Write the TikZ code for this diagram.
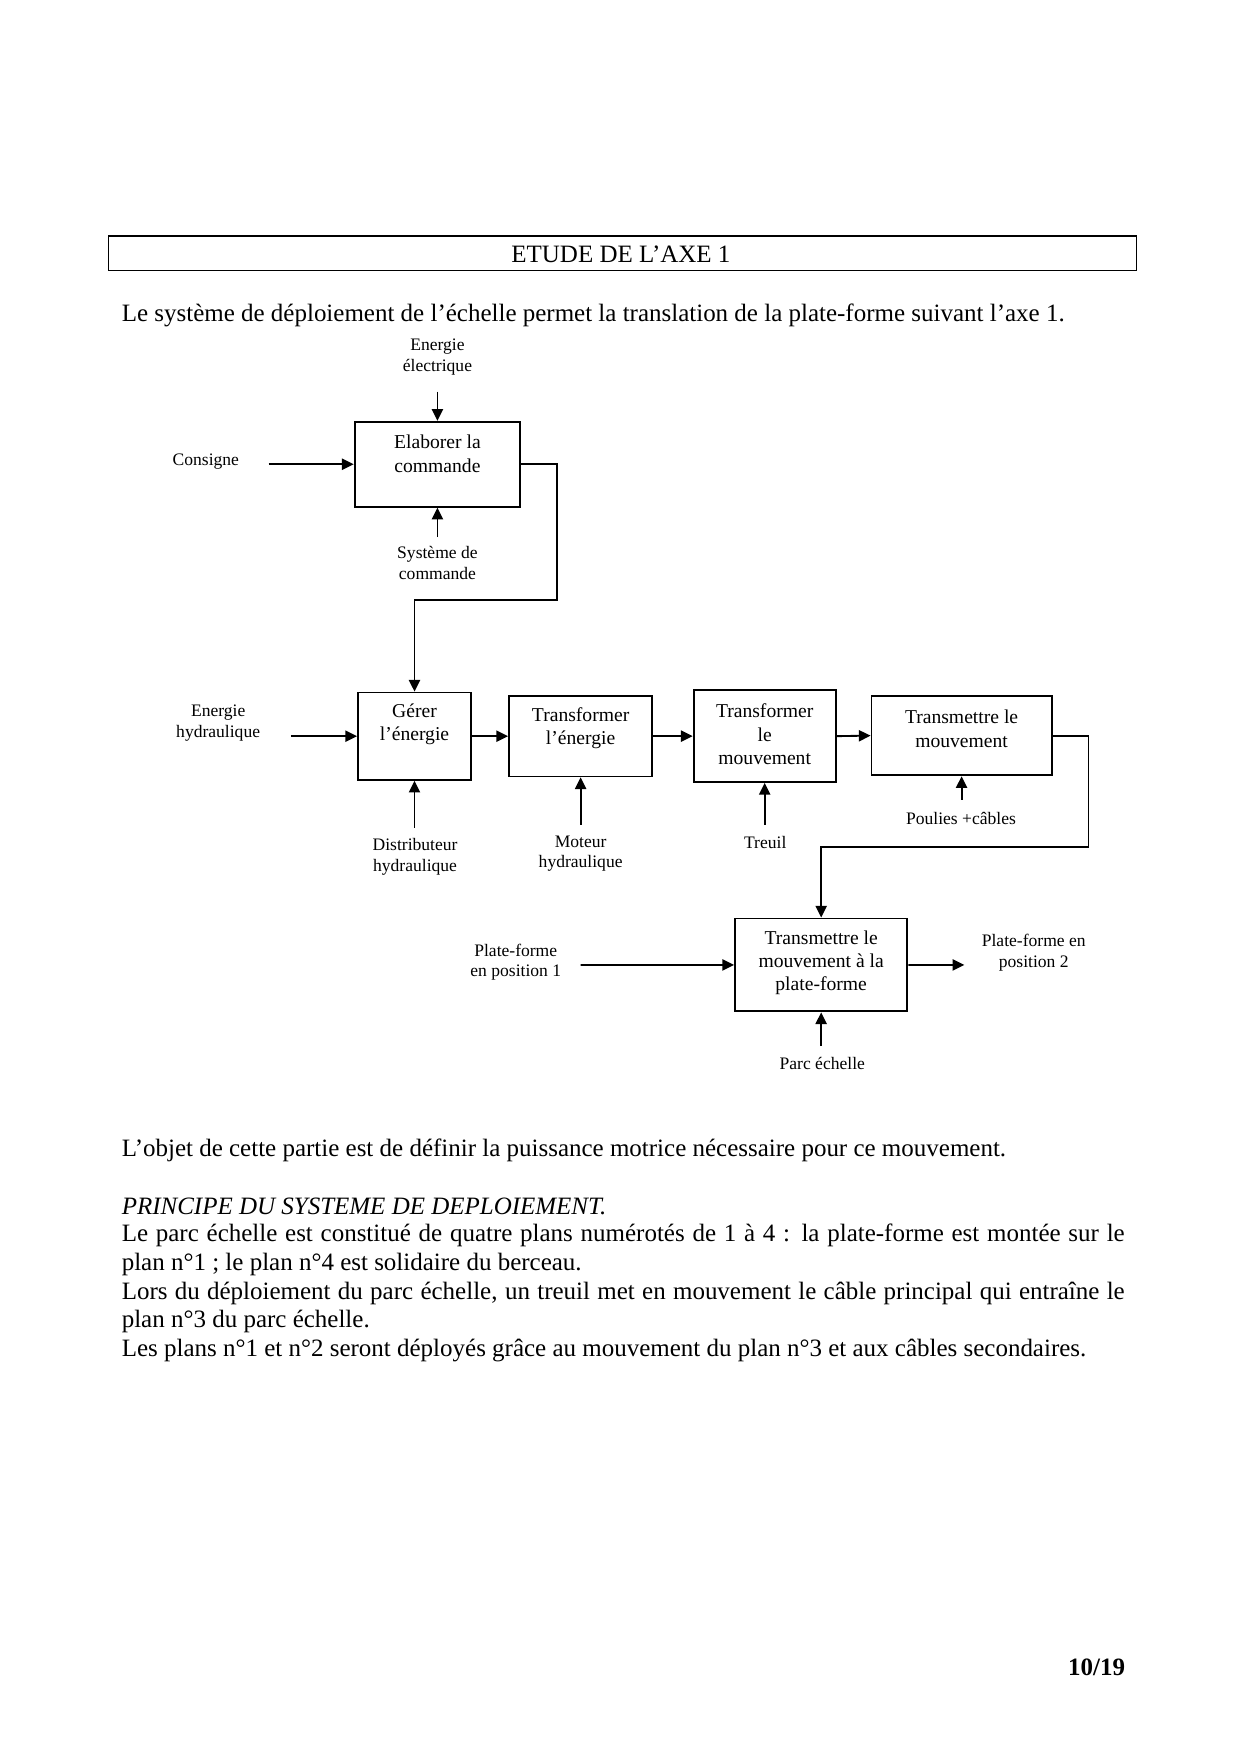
\documentclass[tikz,border=0pt]{standalone}
\usepackage{fontspec}
\setmainfont{Liberation Serif}
\usetikzlibrary{arrows.meta,fit}
\tikzset{
  box/.style={draw, line width=0.9pt, inner sep=0pt},
  tbox/.style={draw, line width=0.6pt, inner sep=0pt},
  btxt/.style={font=\fontsize{9.5}{11.3}\selectfont, align=center, inner sep=0pt},
  ltxt/.style={font=\fontsize{8.5}{10}\selectfont, align=center, inner sep=0pt},
  body/.style={font=\fontsize{12.1}{14}\selectfont, anchor=west, inner sep=0pt},
  arr/.style={line width=0.9pt, -{Triangle[length=2mm,width=1.9mm]}},
}
\begin{document}
\begin{tikzpicture}[x=0.019039cm, y=-0.019039cm]
\useasboundingbox[fill=white] (0,0) rectangle (1108.5,1567.8);

% title
\node[tbox, fit={(97,211) (1016,242)}] (titlebox) {};
\node[font=\fontsize{12.1}{14}\selectfont, inner sep=0pt] (title) at (555,227) {ETUDE DE L’AXE 1};

\node[body] (intro) at (108.5,282) {Le système de déploiement de l’échelle permet la translation de la plate-forme suivant l’axe 1.};

% boxes
\node[box, fit={(317,377) (465,453)}] (elab) {};
\node[btxt] (elabt) at (391,405.5) {Elaborer la\\commande};
\node[box, fit={(320,619) (421,697)}] (gerer) {};
\node[btxt] (gerert) at (370.5,647.5) {Gérer\\l’énergie};
\node[box, fit={(455,622) (583,694)}] (tre) {};
\node[btxt] (tret) at (519,651) {Transformer\\l’énergie};
\node[box, fit={(620,617) (747,699)}] (trm) {};
\node[btxt] (trmt) at (683.5,656.5) {Transformer\\le\\mouvement};
\node[box, fit={(779,622) (940,693)}] (tmv) {};
\node[btxt] (tmvt) at (859.5,651.5) {Transmettre le\\mouvement};
\node[box, fit={(657,821) (811,904)}] (tpf) {};
\node[btxt] (tpft) at (734,860.5) {Transmettre le\\mouvement à la\\plate-forme};

% labels
\node[ltxt] (enel) at (391,319) {Energie\\électrique};
\node[ltxt] (cons) at (184,413) {Consigne};
\node[ltxt] (sysc) at (391,503.5) {Système de\\commande};
\node[ltxt] (ehyd) at (195,646.5) {Energie\\hydraulique};
\node[ltxt] (dist) at (371,766) {Distributeur\\hydraulique};
\node[ltxt] (mot) at (519,763) {Moteur\\hydraulique};
\node[ltxt] (treuil) at (684,753) {Treuil};
\node[ltxt] (poulies) at (859,732) {Poulies +câbles};
\node[ltxt] (pf1) at (461,860) {Plate-forme\\en position 1};
\node[ltxt] (pf2) at (924,851.5) {Plate-forme en\\position 2};
\node[ltxt] (parc) at (735,951) {Parc échelle};

% free ends
\coordinate (aen) at (391,350);
\coordinate (acons) at (240,415);
\coordinate (asys) at (391,480);
\coordinate (aehyd) at (260,658);
\coordinate (adist) at (370.5,740);
\coordinate (amot) at (519,737);
\coordinate (atreuil) at (683.5,737);
\coordinate (apoul) at (859.5,715);
\coordinate (apf1) at (519,862.5);
\coordinate (apf2) at (862,862.5);
\coordinate (aparc) at (734,935);

% connectors
\draw[arr] (aen) -- (elab.north);
\draw[arr] (acons) -- (elab.west);
\draw[arr] (asys) -- (elab.south);
\draw[arr] (elab.east) -| (498,536) -| (gerer.north);
\draw[arr] (aehyd) -- (gerer.west);
\draw[arr] (gerer.east) -- (tre.west);
\draw[arr] (tre.east) -- (trm.west);
\draw[arr] (trm.east) -- (tmv.west);
\draw[arr] (tmv.east) -| (973,757) -| (tpf.north);
\draw[arr] (adist) -- (gerer.south);
\draw[arr] (amot) -- (tre.south);
\draw[arr] (atreuil) -- (trm.south);
\draw[arr] (apoul) -- (tmv.south);
\draw[arr] (apf1) -- (tpf.west);
\draw[arr] (tpf.east) -- (apf2);
\draw[arr] (aparc) -- (tpf.south);

% body text
\node[body] (obj) at (108.5,1028) {L’objet de cette partie est de définir la puissance motrice nécessaire pour ce mouvement.};
\node[body] (princ) at (108.5,1078) {\itshape PRINCIPE DU SYSTEME DE DEPLOIEMENT.};
\node[body] (l1) at (108.5,1104) {\makebox[17.07cm][s]{Le parc échelle est constitué de quatre plans numérotés de 1 à 4 : la plate-forme est montée sur le}};
\node[body] (l2) at (108.5,1130) {plan n°1 ; le plan n°4 est solidaire du berceau.};
\node[body] (l3) at (108.5,1156) {\makebox[17.07cm][s]{Lors du déploiement du parc échelle, un treuil met en mouvement le câble principal qui entraîne le}};
\node[body] (l4) at (108.5,1181) {plan n°3 du parc échelle.};
\node[body] (l5) at (108.5,1207) {Les plans n°1 et n°2 seront déployés grâce au mouvement du plan n°3 et aux câbles secondaires.};

\node[font=\fontsize{12.1}{14}\selectfont\bfseries, anchor=east, inner sep=0pt] (page) at (1006,1490) {10/19};
\end{tikzpicture}
\end{document}
